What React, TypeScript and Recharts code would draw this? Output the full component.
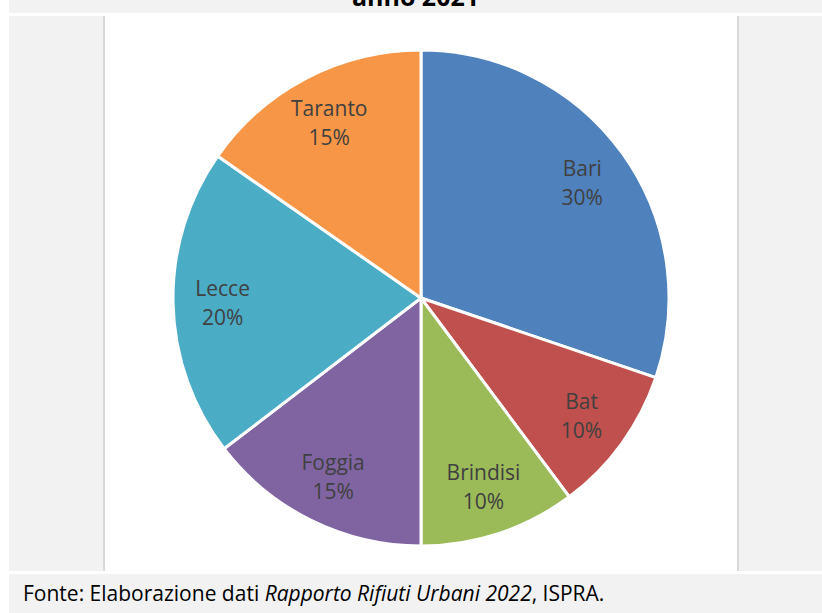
import { PieChart, Pie, Cell } from 'recharts';

const province = ['Bari', 'Bat', 'Brindisi', 'Foggia', 'Lecce', 'Taranto'];
const quote = [30.2, 9.6, 10.2, 14.6, 20.1, 15.3];
const colori = ['#4F81BD', '#C0504D', '#9BBB59', '#8064A2', '#4BACC6', '#F79646'];

const data = province.map((nome, i) => ({ nome, valore: quote[i] }));

const RAD = Math.PI / 180;
const font = '"Open Sans", "Liberation Sans", sans-serif';

function renderLabel(props: any) {
  const { cx, cy, midAngle, outerRadius, percent, name } = props;
  const r = outerRadius * 0.8;
  const x = cx + r * Math.cos(-midAngle * RAD);
  const y = cy + r * Math.sin(-midAngle * RAD);
  return (
    <text x={x} y={y} fill="#404040" textAnchor="middle" fontSize={21} fontFamily={font}>
      <tspan x={x} dy={-6}>{name}</tspan>
      <tspan x={x} dy={29}>{Math.round(percent * 100)}%</tspan>
    </text>
  );
}

export default function App() {
  return (
    <div style={{ position: 'absolute', left: 0, top: 0, width: 822, height: 613, overflow: 'hidden', background: '#fff' }}>
      {/* fascia titolo, tagliata in alto */}
      <div style={{ position: 'absolute', left: 9, top: 0, width: 813, height: 13, background: '#f2f2f2', overflow: 'hidden' }}>
        <div style={{ position: 'absolute', left: 0, width: 813, top: -21, textAlign: 'center', fontFamily: font, fontWeight: 700, fontSize: 25, lineHeight: '34px', color: '#000' }}>
          anno 2021
        </div>
      </div>
      {/* pannello grafico */}
      <div style={{ position: 'absolute', left: 9, top: 15.5, width: 813, height: 555.5, background: '#f2f2f2' }} />
      <div style={{ position: 'absolute', left: 103, top: 15.5, width: 636, height: 555.5, background: '#fff', borderLeft: '2px solid #d9d9d9', borderRight: '2px solid #d9d9d9', boxSizing: 'border-box' }} />
      {/* fonte */}
      <div style={{ position: 'absolute', left: 9, top: 574, width: 813, height: 39, background: '#f2f2f2' }}>
        <div style={{ position: 'absolute', left: 14, top: 5, fontFamily: font, fontSize: 21, color: '#000', whiteSpace: 'nowrap' }}>
          Fonte: Elaborazione dati <i>Rapporto Rifiuti Urbani 2022</i>, ISPRA.
        </div>
      </div>
      <div style={{ position: 'absolute', left: 0, top: 0 }}>
        <PieChart width={822} height={613}>
          <Pie
            data={data}
            dataKey="valore"
            nameKey="nome"
            cx={416}
            cy={293}
            outerRadius={248}
            startAngle={90}
            endAngle={-270}
            stroke="#fff"
            strokeWidth={3}
            label={renderLabel}
            labelLine={false}
            isAnimationActive={false}
          >
            {data.map((d, i) => (
              <Cell key={d.nome} fill={colori[i]} />
            ))}
          </Pie>
        </PieChart>
      </div>
    </div>
  );
}
